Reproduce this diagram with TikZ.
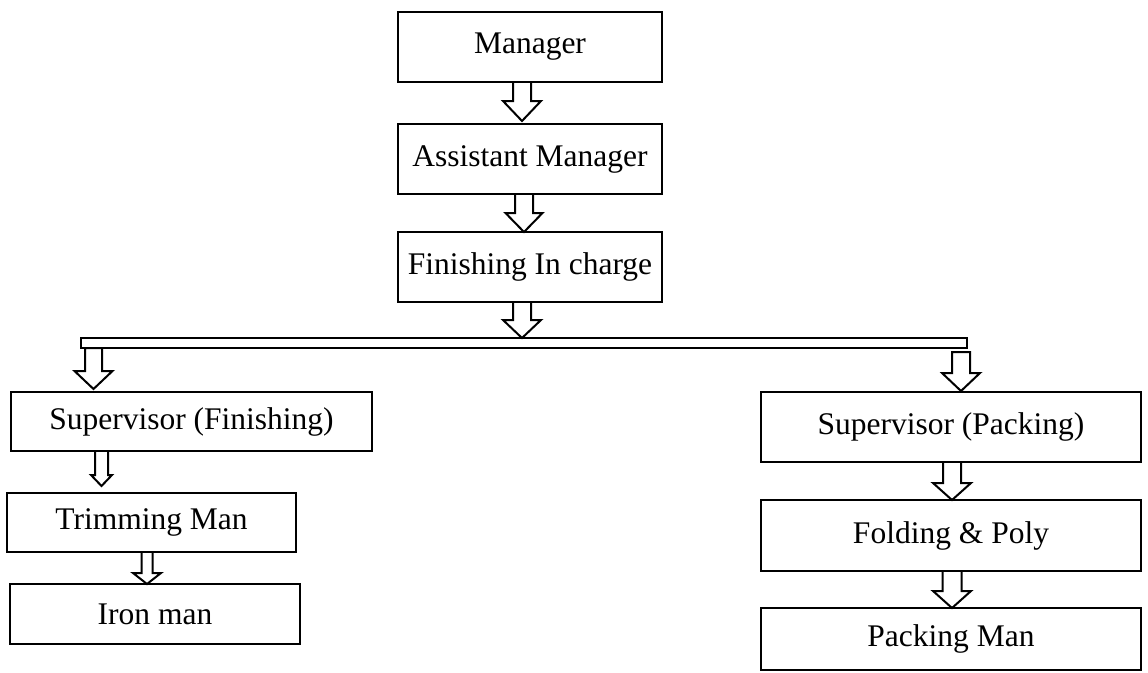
\documentclass[tikz,border=0pt]{standalone}
\usepackage{fontspec}
\setmainfont{Liberation Serif}
\usetikzlibrary{calc}
\tikzset{
  box/.style={draw, line width=2pt, inner sep=0pt, outer sep=0pt,
    font=\fontsize{31.5}{36}\selectfont, anchor=north west},
  blk/.style={draw, line width=2pt, line join=miter},
}
\newcommand\blkarr[6]{\draw[blk] let \p1=#2, \p2=#3 in
  (#1pt-#4pt,\y1) -- (#1pt-#4pt,\y2+#6pt) -- (#1pt-#5pt,\y2+#6pt) -- (#1pt,\y2)
  -- (#1pt+#5pt,\y2+#6pt) -- (#1pt+#4pt,\y2+#6pt) -- (#1pt+#4pt,\y1);}
\newcommand\blkarrc[6]{\draw[blk] let \p1=#2, \p2=#3 in
  (#1pt-#4pt,\y1) -- (#1pt-#4pt,\y2+#6pt) -- (#1pt-#5pt,\y2+#6pt) -- (#1pt,\y2)
  -- (#1pt+#5pt,\y2+#6pt) -- (#1pt+#4pt,\y2+#6pt) -- (#1pt+#4pt,\y1) -- cycle;}
\begin{document}
\begin{tikzpicture}[x=1pt,y=-1pt]
\useasboundingbox (0,0) rectangle (1148,672);
% top column
\node[box, minimum width=264pt, minimum height=70pt] (mgr) at (398,12) {Manager};
\node[box, minimum width=264pt, minimum height=70pt] (asst) at (398,124) {Assistant Manager};
\node[box, minimum width=264pt, minimum height=70pt] (fin) at (398,232) {Finishing In charge};
% bar
\node[box, minimum width=886pt, minimum height=10pt] (bar) at (81,338) {};
% left column
\node[box, minimum width=361pt, minimum height=59pt] (supf) at (11,392) {Supervisor (Finishing)};
\node[box, minimum width=289pt, minimum height=59pt] (trim) at (7,493) {Trimming Man};
\node[box, minimum width=290pt, minimum height=60pt] (iron) at (10,584) {Iron man};
% right column
\node[box, minimum width=380pt, minimum height=70pt] (supp) at (761,392) {Supervisor (Packing)};
\node[box, minimum width=380pt, minimum height=71pt] (fold) at (761,500) {Folding \& Poly};
\node[box, minimum width=380pt, minimum height=62pt] (pack) at (761,608) {Packing Man};
% block arrows
\blkarr{522}{(mgr.south)}{($(asst.north)+(0,-3)$)}{9}{19}{20}
\blkarr{524}{(asst.south)}{(fin.north)}{9}{18.5}{19}
\blkarr{522}{(fin.south)}{(bar.north)}{9}{19}{18}
\blkarrc{93.5}{(bar.south)}{($(supf.north)+(0,-3)$)}{8.5}{19}{18}
\blkarrc{961}{($(bar.south)+(0,4)$)}{($(supp.north)+(0,-1)$)}{9}{19}{18}
\blkarr{101.5}{(supf.south)}{($(trim.north)+(0,-7)$)}{6.5}{10.5}{11}
\blkarr{147}{(trim.south)}{(iron.north)}{5.5}{14}{11}
\blkarr{952}{(supp.south)}{(fold.north)}{9}{19}{17}
\blkarr{952}{(fold.south)}{(pack.north)}{9.5}{19}{17}
\end{tikzpicture}
\end{document}
